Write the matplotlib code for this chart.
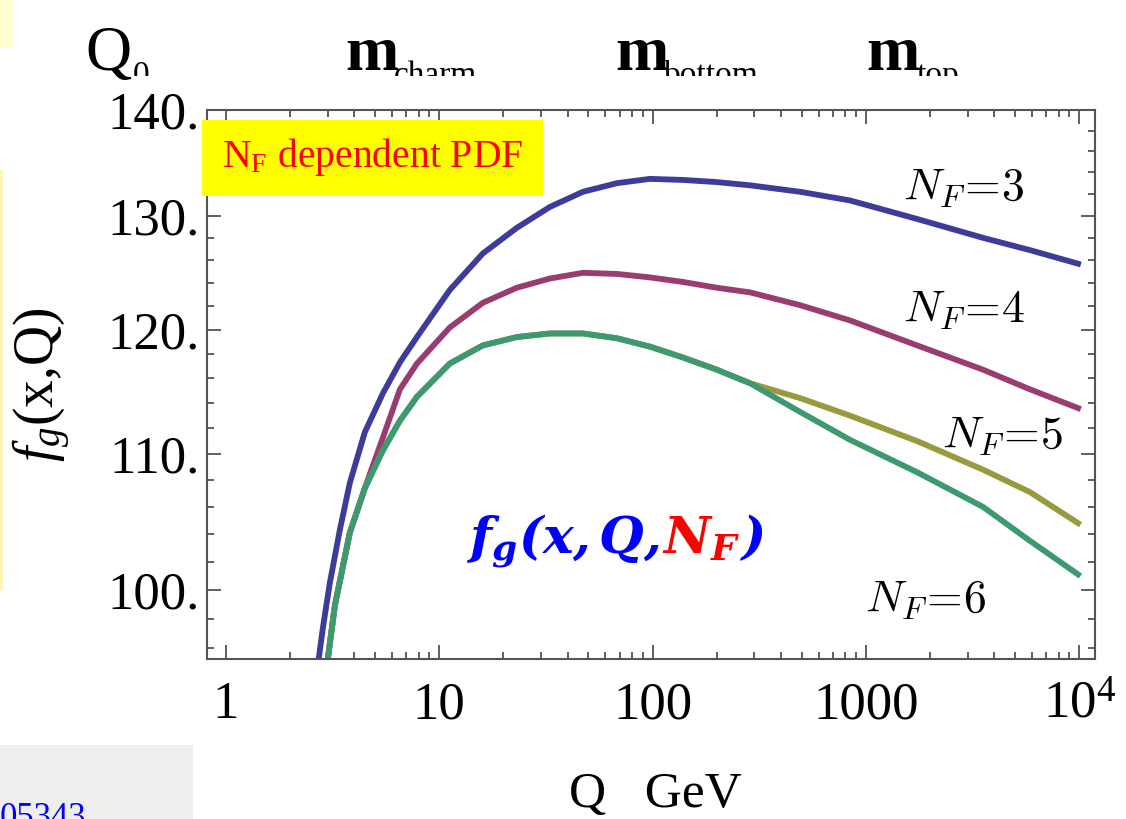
import matplotlib
matplotlib.use("Agg")
import matplotlib.pyplot as plt
from matplotlib.patches import Rectangle
from matplotlib.transforms import Bbox, TransformedBbox

plt.rcParams['font.family'] = ['Liberation Serif', 'DejaVu Serif']
plt.rcParams['mathtext.fontset'] = 'custom'
plt.rcParams['mathtext.rm'] = 'Liberation Serif'
plt.rcParams['mathtext.it'] = 'Liberation Serif:italic'
plt.rcParams['mathtext.bf'] = 'DejaVu Serif:italic:bold'

# Q in GeV, gluon pdf values
q_nf3 = [2.70, 2.85, 3.07, 3.42, 3.81, 4.48, 5.45, 6.54, 7.86, 11.2, 16.0, 23.1, 33.0, 47.2,
         68.1, 97.2, 139, 200, 286, 491, 842, 1740, 3540, 5880, 9870]
f_nf3 = [94.9, 97.4, 100.5, 104.3, 107.8, 111.7, 114.8, 117.3, 119.4, 123.4, 126.6, 128.9, 130.8, 132.2,
         133.0, 133.4, 133.3, 133.1, 132.8, 132.2, 131.4, 129.7, 128.0, 126.9, 125.7]

q_nf4 = [2.98, 3.24, 3.81, 4.48, 5.45, 6.54, 7.86, 11.2, 16.0, 23.1, 33.0, 47.2,
         68.1, 97.2, 139, 200, 286, 491, 842, 1740, 3540, 5880, 9870]
f_nf4 = [94.9, 98.9, 104.1, 107.4, 111.3, 115.1, 117.2, 120.2, 122.3, 123.6, 124.4, 124.9,
         124.8, 124.5, 124.1, 123.6, 123.2, 122.1, 120.8, 118.7, 116.7, 115.1, 113.6]

q_nf5 = [2.98, 3.24, 3.81, 4.48, 5.45, 6.54, 7.86, 11.2, 16.0, 23.1, 33.0, 47.2,
         68.1, 97.2, 139, 200, 286, 491, 842, 1740, 3540, 5880, 9870]
f_nf5 = [94.9, 98.9, 104.1, 107.4, 110.3, 112.6, 114.5, 117.2, 118.7, 119.4, 119.7, 119.7,
         119.3, 118.6, 117.7, 116.7, 115.6, 114.4, 113.0, 111.0, 108.8, 107.1, 104.8]

q_nf6 = [2.98, 3.24, 3.81, 4.48, 5.45, 6.54, 7.86, 11.2, 16.0, 23.1, 33.0, 47.2,
         68.1, 97.2, 139, 200, 286, 491, 842, 1740, 3540, 5880, 9870]
f_nf6 = [94.9, 98.9, 104.1, 107.4, 110.3, 112.6, 114.5, 117.2, 118.7, 119.4, 119.7, 119.7,
         119.3, 118.6, 117.7, 116.7, 115.6, 113.3, 111.1, 108.6, 106.0, 103.5, 101.1]

x_ticks = [1, 10, 100, 1000, 10000]
x_ticklabels = ['1', '10', '100', '1000', '$10^4$']
y_ticks = [100, 110, 120, 130, 140]
y_ticklabels = ['100.', '110.', '120.', '130.', '140.']

fig = plt.figure(figsize=(11.26, 8.19), dpi=100)
ax = fig.add_axes([0.1838, 0.1954, 0.7887, 0.6703])

lw = 4.2
ax.plot(q_nf3, f_nf3, color='#3d3d99', lw=lw)
ax.plot(q_nf4, f_nf4, color='#993d71', lw=lw)
ax.plot(q_nf5, f_nf5, color='#99993d', lw=lw)
ax.plot(q_nf6, f_nf6, color='#3d9970', lw=lw)

ax.set_xscale('log')
ax.set_yscale('log')
ax.set_xticks(x_ticks)
ax.set_xticklabels(x_ticklabels)
ax.set_xticks([m * 10**e for e in range(0, 4) for m in range(2, 10)], minor=True)
ax.set_yticks(y_ticks)
ax.set_yticklabels(y_ticklabels)
ax.set_yticks([v for v in range(96, 140, 2) if v % 10 != 0], minor=True)
ax.yaxis.set_minor_formatter(plt.NullFormatter())
ax.xaxis.set_minor_formatter(plt.NullFormatter())
ax.set_xlim(0.815, 11860)
ax.set_ylim(95.28, 140)

ax.tick_params(which='both', direction='in', top=True, right=True, color='#444444', width=1.2)
ax.tick_params(which='major', length=10, labelsize=38)
ax.tick_params(which='minor', length=5)
ax.tick_params(axis='x', pad=16)
ax.tick_params(axis='y', pad=5)
for s in ax.spines.values():
    s.set_color('#555555')
    s.set_linewidth(1.5)

# curve labels
lab = dict(fontsize=33, color='black', math_fontfamily='cm', va='baseline', ha='left')
fig.text(903 / 1126, 1 - 200 / 819, r'$N_F\!=\!3$', **lab)
fig.text(903 / 1126, 1 - 322 / 819, r'$N_F\!=\!4$', **lab)
fig.text(942 / 1126, 1 - 448 / 819, r'$N_F\!=\!5$', **lab)
fig.text(865 / 1126, 1 - 612 / 819, r'$N_F\!=\!6$', **lab)

# big formula, pieces chained left to right
big = dict(fontsize=37, va='baseline', ha='left')
r = fig.canvas.get_renderer()
t1 = fig.text(466 / 1126, 1 - 553 / 819, r'$\mathbf{f_g(x,Q,}$', color='#0000ff', **big)
x1 = t1.get_window_extent(r).x1 / fig.bbox.width
t2 = fig.text(x1 + 2 / 1126, 1 - 553 / 819, r'$\mathbf{N_F}$', color='#ff0000', **big)
x2 = t2.get_window_extent(r).x1 / fig.bbox.width
fig.text(x2, 1 - 553 / 819, r'$\mathbf{)}$', color='#0000ff', **big)

# yellow box
fig.patches.append(Rectangle((202 / 1126, 1 - 196 / 819), 341 / 1126, 76 / 819,
                             transform=fig.transFigure, facecolor='#ffff00', edgecolor='none', zorder=5))
fig.text(222 / 1126, 1 - 167 / 819, r'N$_\mathregular{F}$ dependent PDF', color='#ff0000',
         fontsize=28.5, va='baseline', ha='left', zorder=6)

# axis labels
fig.text(42 / 1126, 1 - 385 / 819, r'$f_g$(x,Q)', rotation=90, fontsize=40, ha='center', va='center')
fig.text(655 / 1126, 1 - 795 / 819, 'Q   GeV', fontsize=37, ha='center', va='center')

# threshold marks along the top (subscripts cut off by the slide)
clip = TransformedBbox(Bbox([[0, 1 - 76 / 819], [1, 1]]), fig.transFigure)
tops = [(85, 'Q', 'normal', 46, 133, '0'), (345, 'm', 'bold', 46, 394, 'charm'),
        (615, 'm', 'bold', 46, 664, 'bottom'), (866, 'm', 'bold', 46, 917, 'top')]
for xm, main, wt, fs, xs, sub in tops:
    fig.text(xm / 1126, 1 - 70 / 819, main, fontsize=fs, fontweight=wt, ha='left', va='baseline')
    t = fig.text(xs / 1126, 1 - 84 / 819, sub, fontsize=24, ha='left', va='baseline')
    t.set_clip_on(True)
    t.set_clip_box(clip)

# slide leftovers
fig.patches.append(Rectangle((0, 1 - 48 / 819), 14 / 1126, 48 / 819, transform=fig.transFigure,
                             facecolor='#ffffd0', edgecolor='none'))
fig.patches.append(Rectangle((0, 1 - 590 / 819), 3 / 1126, 420 / 819, transform=fig.transFigure,
                             facecolor='#fff6b8', edgecolor='none'))
fig.patches.append(Rectangle((0, 0), 193 / 1126, 74 / 819, transform=fig.transFigure,
                             facecolor='#eeeeee', edgecolor='none'))
fig.text(0, -8 / 819, '05343', color='#0000ff', fontsize=25, ha='left', va='baseline')

fig.savefig('out.png', dpi=100)
